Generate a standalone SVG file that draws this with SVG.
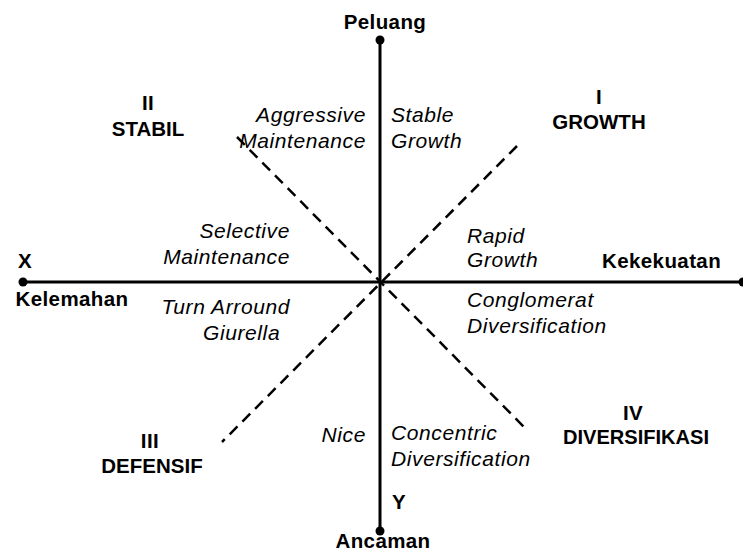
<svg xmlns="http://www.w3.org/2000/svg" width="743" height="552" viewBox="0 0 743 552">
<style>
.axis{stroke:#000;stroke-width:3;fill:none}
.dash{stroke:#000;stroke-width:2.5;fill:none;stroke-dasharray:11 7}
.b{font-family:"Liberation Sans",Arial,sans-serif;font-weight:bold;font-size:20.5px;letter-spacing:0.4px;fill:#000}
.u{letter-spacing:0}
.i{font-family:"Liberation Sans",Arial,sans-serif;font-style:italic;font-size:21px;letter-spacing:0.6px;fill:#000}
.m{text-anchor:middle}
.e{text-anchor:end}
</style>
<rect width="743" height="552" fill="#fff"/>
<g id="connectors">
<line class="dash" x1="237" y1="137" x2="527" y2="430"/>
<line class="dash" x1="517" y1="146" x2="222" y2="442"/>
<line class="axis" x1="380" y1="40" x2="380" y2="531"/>
<line class="axis" x1="23" y1="282" x2="743" y2="282"/>
<circle cx="380" cy="40" r="4.5"/>
<circle cx="380" cy="531" r="4.5"/>
<circle cx="23" cy="282" r="4.5"/>
<circle cx="743" cy="282" r="4.5"/>
</g>
<g id="peluang"><text class="b m" x="385" y="29">Peluang</text></g>
<g id="ancaman"><text class="b m" x="383" y="548">Ancaman</text></g>
<g id="x"><text class="b m" x="25" y="268">X</text></g>
<g id="kelemahan"><text class="b m" x="72" y="306">Kelemahan</text></g>
<g id="kekekuatan"><text class="b" x="602" y="268">Kekekuatan</text></g>
<g id="y"><text class="b" x="392" y="509">Y</text></g>
<g id="q1"><text class="b m" x="599" y="104">I</text><text class="b m u" x="599" y="129">GROWTH</text></g>
<g id="q2"><text class="b m" x="148" y="110">II</text><text class="b m u" x="148" y="136">STABIL</text></g>
<g id="q3"><text class="b m" x="150" y="448">III</text><text class="b m u" x="152" y="473">DEFENSIF</text></g>
<g id="q4"><text class="b m" x="633" y="420">IV</text><text class="b u" x="563" y="444" textLength="146" lengthAdjust="spacingAndGlyphs">DIVERSIFIKASI</text></g>
<g id="aggressive"><text class="i e" x="366" y="122">Aggressive</text><text class="i e" x="366" y="148">Maintenance</text></g>
<g id="stable"><text class="i" x="391" y="122">Stable</text><text class="i" x="391" y="148">Growth</text></g>
<g id="selective"><text class="i e" x="290" y="238">Selective</text><text class="i e" x="290" y="264">Maintenance</text></g>
<g id="rapid"><text class="i" x="467" y="243">Rapid</text><text class="i" x="467" y="267">Growth</text></g>
<g id="turn"><text class="i e" x="290" y="314">Turn Arround</text><text class="i" x="203" y="340">Giurella</text></g>
<g id="conglomerat"><text class="i" x="467" y="307">Conglomerat</text><text class="i" x="467" y="333">Diversification</text></g>
<g id="nice"><text class="i e" x="366" y="442">Nice</text></g>
<g id="concentric"><text class="i" x="391" y="440">Concentric</text><text class="i" x="391" y="466">Diversification</text></g>
</svg>
